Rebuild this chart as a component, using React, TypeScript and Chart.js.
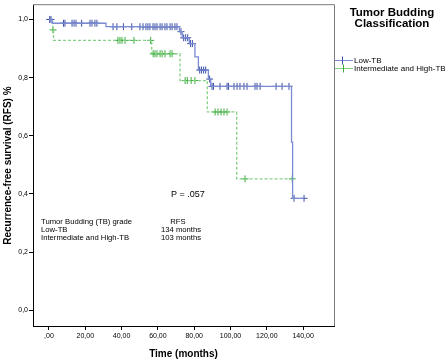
import React, { useEffect, useRef } from 'react';
import { Chart, registerables } from 'chart.js';
Chart.register(...registerables);

// Kaplan-Meier steps (time in months, survival proportion)
const lowTimes = [0, 1.8, 31.4, 71.9, 73.4, 77.3, 80.4, 82.3, 87.8, 89.1, 133.6, 134.2, 140.5];
const lowSurv = [1.0, 0.987, 0.975, 0.958, 0.937, 0.917, 0.871, 0.826, 0.795, 0.77, 0.578, 0.385, 0.385];

const lowCensorTimes = [
  0.4, 1.1,
  8.0, 8.8, 12.7, 13.8, 14.9, 18.0, 22.6, 23.7, 25.3, 26.4,
  35.3, 37.4, 41.0, 45.6, 50.1, 51.8, 53.4, 54.5, 55.6, 57.3, 58.4, 59.5, 61.2, 62.3, 63.9, 65.0, 66.7, 67.8, 69.4, 70.5,
  72.7,
  74.2, 75.3, 76.4,
  78.0, 79.0,
  83.0, 84.0, 85.2, 86.3,
  88.5,
  89.8, 90.6, 94.2, 98.1, 98.9, 101.9, 103.6, 105.2, 107.4, 109.1, 113.5, 114.6, 116.3, 125.1, 128.4, 132.2,
  135.0, 140.5,
];
const lowCensorSurv = [
  1.0, 1.0,
  0.987, 0.987, 0.987, 0.987, 0.987, 0.987, 0.987, 0.987, 0.987, 0.987,
  0.975, 0.975, 0.975, 0.975, 0.975, 0.975, 0.975, 0.975, 0.975, 0.975, 0.975, 0.975, 0.975, 0.975, 0.975, 0.975, 0.975, 0.975, 0.975, 0.975,
  0.958,
  0.937, 0.937, 0.937,
  0.917, 0.917,
  0.826, 0.826, 0.826, 0.826,
  0.795,
  0.77, 0.77, 0.77, 0.77, 0.77, 0.77, 0.77, 0.77, 0.77, 0.77, 0.77, 0.77, 0.77, 0.77, 0.77, 0.77,
  0.385, 0.385,
];

const highTimes = [0, 2.0, 2.5, 56.6, 72.2, 87.2, 103.4, 134.0];
const highSurv = [1.0, 0.964, 0.928, 0.882, 0.79, 0.682, 0.452, 0.452];

const highCensorTimes = [
  2.2,
  38.0, 39.1, 40.2, 41.9, 46.8, 56.0,
  57.4, 58.4, 59.5, 61.2, 62.3, 63.9, 66.7, 67.8,
  75.0, 76.2, 78.3, 80.4,
  91.5, 93.1, 94.8, 96.4, 98.1,
  108.0, 134.0,
];
const highCensorSurv = [
  0.964,
  0.928, 0.928, 0.928, 0.928, 0.928, 0.928,
  0.882, 0.882, 0.882, 0.882, 0.882, 0.882, 0.882, 0.882,
  0.79, 0.79, 0.79, 0.79,
  0.682, 0.682, 0.682, 0.682, 0.682,
  0.452, 0.452,
];

const xTickValues = [0, 20, 40, 60, 80, 100, 120, 140];
const xTickLabels = [',00', '20,00', '40,00', '60,00', '80,00', '100,00', '120,00', '140,00'];
const yTickValues = [0, 0.2, 0.4, 0.6, 0.8, 1.0];
const yTickLabels = ['0,0', '0,2', '0,4', '0,6', '0,8', '1,0'];

const seriesNames = ['Low-TB', 'Intermediate and High-TB'];
const medianRFS = ['134 months', '103 months'];
const legendTitle = ['Tumor Budding', 'Classification'];
const tableHeader = ['Tumor Budding (TB) grade', 'RFS'];
const pValueText = 'P = .057';
const xTitle = 'Time (months)';
const yTitle = 'Recurrence-free survival (RFS) %';

const FONT = '"Liberation Sans", Arial, sans-serif';
const BLUE_LINE = '#7b8bd2';
const BLUE_MARK = '#3d51a6';
const GREEN_LINE = '#86cf86';
const GREEN_MARK = '#3fae3f';

const pts = (t: number[], s: number[]) => t.map((v, i) => ({ x: v, y: s[i] }));

const overlay = {
  id: 'overlay',
  afterDraw(chart: any) {
    const { ctx, chartArea: ca } = chart;
    ctx.save();
    // frame (top and right)
    ctx.strokeStyle = '#7a7a7a';
    ctx.lineWidth = 1;
    ctx.beginPath();
    ctx.moveTo(ca.left, ca.top - 0.5);
    ctx.lineTo(ca.right + 0.5, ca.top - 0.5);
    ctx.lineTo(ca.right + 0.5, ca.bottom);
    ctx.stroke();

    ctx.fillStyle = '#000';
    // axis titles
    ctx.font = `bold 10px ${FONT}`;
    ctx.textAlign = 'center';
    ctx.textBaseline = 'middle';
    ctx.fillText(xTitle, (ca.left + ca.right) / 2, 354);
    ctx.save();
    ctx.translate(8, (ca.top + ca.bottom) / 2);
    ctx.rotate(-Math.PI / 2);
    ctx.fillText(yTitle, 0, 0);
    ctx.restore();

    // p value
    ctx.font = `9px ${FONT}`;
    ctx.textAlign = 'left';
    ctx.fillText(pValueText, 171, 195);

    // table
    ctx.font = `7.7px ${FONT}`;
    ctx.textAlign = 'left';
    ctx.fillText(tableHeader[0], 41, 222);
    ctx.fillText(seriesNames[0], 41, 229.5);
    ctx.fillText(seriesNames[1], 41, 237.5);
    ctx.textAlign = 'center';
    ctx.fillText(tableHeader[1], 178, 222);
    ctx.fillText(medianRFS[0], 181, 229.5);
    ctx.fillText(medianRFS[1], 181, 237.5);

    // legend
    ctx.font = `bold 11.5px ${FONT}`;
    ctx.textAlign = 'center';
    ctx.fillText(legendTitle[0], 392, 12.5);
    ctx.fillText(legendTitle[1], 392, 24);

    const rows = [
      { y: 60.5, line: BLUE_LINE, mark: BLUE_MARK, cx: 342, name: seriesNames[0] },
      { y: 68.5, line: GREEN_LINE, mark: GREEN_MARK, cx: 343, name: seriesNames[1] },
    ];
    rows.forEach((r) => {
      ctx.strokeStyle = r.line;
      ctx.lineWidth = 1;
      ctx.beginPath();
      ctx.moveTo(335, r.y);
      ctx.lineTo(353, r.y);
      ctx.stroke();
      ctx.strokeStyle = r.mark;
      ctx.beginPath();
      ctx.moveTo(r.cx + 0.5, r.y - 4);
      ctx.lineTo(r.cx + 0.5, r.y + 4);
      ctx.stroke();
      ctx.fillStyle = '#000';
      ctx.font = `8px ${FONT}`;
      ctx.textAlign = 'left';
      ctx.fillText(r.name, 354, r.y);
    });
    ctx.restore();
  },
};

export default function App() {
  const ref = useRef<HTMLCanvasElement>(null);
  useEffect(() => {
    document.body.style.margin = '0';
    const chart = new Chart(ref.current as HTMLCanvasElement, {
      type: 'scatter',
      data: {
        datasets: [
          {
            type: 'line',
            label: seriesNames[0],
            data: pts(lowTimes, lowSurv),
            stepped: true,
            borderColor: BLUE_LINE,
            borderWidth: 1.3,
            pointRadius: 0,
            fill: false,
          } as any,
          {
            label: seriesNames[0] + ' censored',
            data: pts(lowCensorTimes, lowCensorSurv),
            pointStyle: 'cross',
            pointRadius: 3.5,
            borderColor: BLUE_MARK,
            backgroundColor: BLUE_MARK,
            borderWidth: 1,
          },
          {
            type: 'line',
            label: seriesNames[1],
            data: pts(highTimes, highSurv),
            stepped: true,
            borderColor: GREEN_LINE,
            borderWidth: 1.3,
            borderDash: [3, 2],
            pointRadius: 0,
            fill: false,
          } as any,
          {
            label: seriesNames[1] + ' censored',
            data: pts(highCensorTimes, highCensorSurv),
            pointStyle: 'cross',
            pointRadius: 3.5,
            borderColor: GREEN_MARK,
            backgroundColor: GREEN_MARK,
            borderWidth: 1,
          },
        ],
      },
      options: {
        responsive: false,
        animation: false,
        events: [],
        layout: { padding: { left: 0, top: 1, right: 111, bottom: 0 } },
        plugins: { legend: { display: false }, tooltip: { enabled: false }, title: { display: false } },
        scales: {
          x: {
            type: 'linear',
            min: -8.8,
            max: 157,
            afterBuildTicks: (s: any) => {
              s.ticks = xTickValues.map((v) => ({ value: v }));
            },
            afterFit: (s: any) => {
              s.height = 34;
            },
            ticks: {
              callback: (v: any) => xTickLabels[xTickValues.indexOf(Number(v))] ?? '',
              font: { family: FONT, size: 7 },
              color: '#000',
              padding: 2,
              maxRotation: 0,
              autoSkip: false,
            },
            grid: { drawOnChartArea: false, drawTicks: true, tickLength: 4, color: '#000' },
            border: { display: true, color: '#000', width: 1 },
          },
          y: {
            type: 'linear',
            min: -0.054,
            max: 1.049,
            afterBuildTicks: (s: any) => {
              s.ticks = yTickValues.map((v) => ({ value: v }));
            },
            afterFit: (s: any) => {
              s.width = 33;
            },
            ticks: {
              callback: (v: any) => {
                const i = yTickValues.findIndex((t) => Math.abs(t - Number(v)) < 1e-6);
                return i >= 0 ? yTickLabels[i] : '';
              },
              font: { family: FONT, size: 7 },
              color: '#000',
              padding: 1,
              autoSkip: false,
            },
            grid: { drawOnChartArea: false, drawTicks: true, tickLength: 4, color: '#000' },
            border: { display: true, color: '#000', width: 1 },
          },
        },
      },
      plugins: [overlay],
    } as any);
    return () => chart.destroy();
  }, []);
  return (
    <div style={{ width: 445, height: 360, background: '#fff' }}>
      <canvas ref={ref} width={445} height={360} style={{ display: 'block' }} />
    </div>
  );
}
